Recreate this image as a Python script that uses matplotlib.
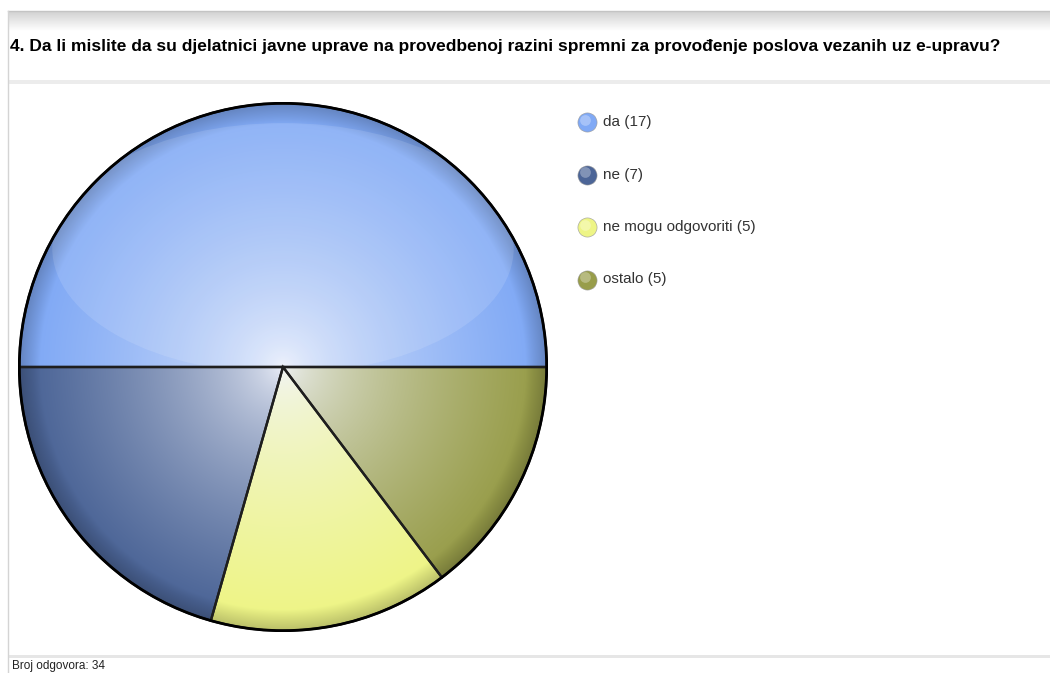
import numpy as np
import matplotlib.pyplot as plt
from matplotlib.colors import to_rgb
from matplotlib.patches import Ellipse, Circle

# podaci
odgovori = ['da', 'ne', 'ne mogu odgovoriti', 'ostalo']
broj = [17, 7, 5, 5]
boje = ['#80a9f5', '#4c6597', '#eef586', '#989d4a']
naslov = '4. Da li mislite da su djelatnici javne uprave na provedbenoj razini spremni za provođenje poslova vezanih uz e-upravu?'
ukupno = 'Broj odgovora: 34'

plt.rcParams['font.family'] = ['Liberation Sans', 'DejaVu Sans']

W, H = 1050, 673
fig = plt.figure(figsize=(10.5, 6.73), dpi=100)

# pozadina u pikselima
bg = fig.add_axes([0, 0, 1, 1])
bg.axis('off')

g = np.linspace(0, 1, 60)
prof = 0.82 + 0.18 * g
band = np.repeat(prof[:, None, None], 3, axis=2)
bg.imshow(band, extent=[8, W, 31, 11], aspect='auto')
bg.plot([8, W], [11, 11], color='#c4c4c4', lw=1)
bg.plot([8, 8], [11, H], color='#d4d4d4', lw=1)
bg.fill_between([8, W], 80, 84, color='#ececec', lw=0)
bg.fill_between([8, W], 655, 658, color='#e6e6e6', lw=0)
bg.set_xlim(0, W)
bg.set_ylim(H, 0)

bg.text(10, 46, naslov, fontsize=12.5, fontweight='bold', va='center', ha='left', color='black')
bg.text(12, 666, ukupno, fontsize=8.5, va='center', ha='left', color='#222222')

# legenda
for i, (o, b, c) in enumerate(zip(odgovori, broj, boje)):
    y = 122 + 52.5 * i
    bg.scatter([587], [y], s=190, color=c, edgecolor='#9a9a9a', lw=0.4, zorder=3)
    bg.scatter([585], [y - 2.5], s=60, color='white', alpha=0.3, lw=0, zorder=4)
    bg.text(603, y, '%s (%d)' % (o, b), fontsize=11, va='center', ha='left', color='#333333')

# pita
cx, cy, r = 283, 367, 265
ax = fig.add_axes([(cx - r) / W, 1 - (cy + r) / H, 2 * r / W, 2 * r / H])
wedges, _ = ax.pie(broj, colors=boje, startangle=0, counterclock=True,
                   wedgeprops=dict(edgecolor='#1e1e1e', linewidth=1.7))

yy, xx = np.mgrid[1:-1:500j, -1:1:500j]
rr = np.hypot(xx, yy)
t = np.clip(rr / 0.95, 0, 1) ** 0.6
rim = np.clip((rr - 0.92) / 0.08, 0, 1)
centar = np.array([0.95, 0.96, 0.99])
for w, c in zip(wedges, boje):
    img = (1 - t)[..., None] * centar + t[..., None] * np.array(to_rgb(c))
    img = img * (1 - 0.22 * rim[..., None])
    ax.imshow(img, extent=[-1, 1, -1, 1], zorder=1.5, clip_path=w)
    w.set_facecolor('none')
    w.set_zorder(3)

sjaj = Ellipse((0, 0.45), 1.75, 0.95, color='white', alpha=0.12, lw=0, zorder=2)
ax.add_patch(sjaj)
sjaj.set_clip_path(wedges[0])
ax.add_patch(Circle((0, 0), 1, fill=False, ec='black', lw=2, zorder=4))
ax.set_xlim(-1.005, 1.005)
ax.set_ylim(-1.005, 1.005)
ax.axis('off')

fig.savefig('out.png', dpi=100)
